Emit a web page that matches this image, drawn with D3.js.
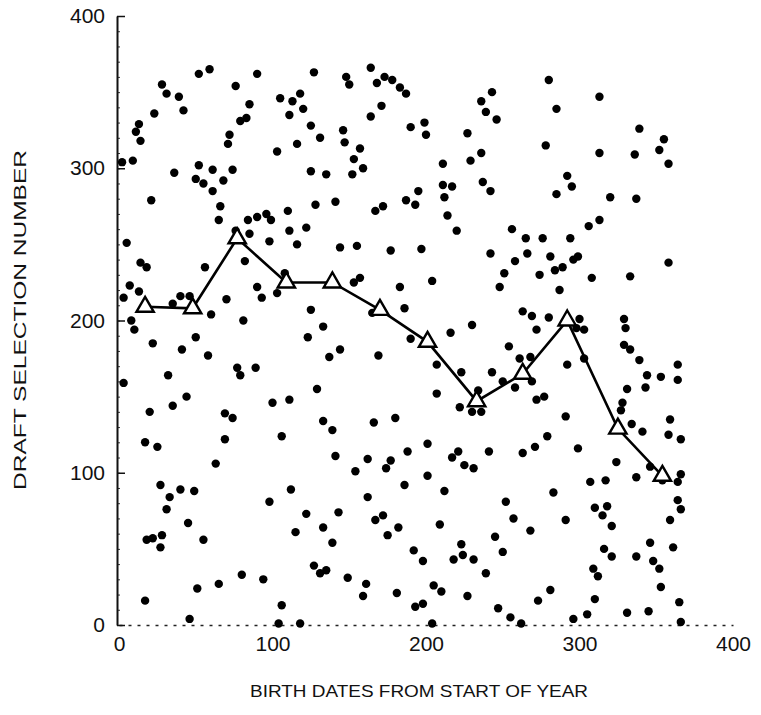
<!doctype html>
<html>
<head>
<meta charset="utf-8">
<script src="https://cdn.jsdelivr.net/npm/d3@7"></script>
<style>
  body { margin: 0; background: #fff; }
  svg text { font-family: 'Liberation Sans', Arial, sans-serif; fill: #111; }
</style>
</head>
<body>
<div id="chart"></div>
<script>
// birth day (day of year) and draft selection number
const birthDay = [
  52,59,90,28,31,39,76,105,113,118,120,111,85,23,42,13,11,14,79,83,72,71,116,103,2,9,52,61,74,36,50,55,68,61,21,66,65,110,84,90,96,99,76,85,111,122,98,116,5,
  127,164,148,150,168,173,178,183,187,171,164,243,236,239,246,125,146,147,131,190,199,200,227,157,153,159,152,125,135,236,229,211,211,217,212,237,242,195,187,193,128,141,167,172,214,220,144,155,177,197,
  280,313,285,339,355,352,358,278,313,336,292,295,285,320,337,256,265,276,294,306,313,
  14,18,56,82,7,13,3,35,40,46,70,90,93,103,108,60,8,10,81,50,22,41,58,77,79,89,32,3,44,35,20,69,74,100,111,17,69,106,
  242,157,153,183,204,125,165,186,133,123,144,137,169,190,216,230,207,223,243,129,207,222,234,230,236,133,139,166,180,201,
  266,281,299,296,258,289,284,251,274,248,287,308,333,358,263,269,280,272,300,303,298,329,330,329,333,339,364,254,261,268,250,269,258,303,292,344,353,364,331,343,272,277,328,327,291,359,334,341,358,366,279,
  25,63,27,33,40,49,31,45,18,22,28,27,55,98,112,122,115,80,94,65,51,17,106,46,118,104,
  141,162,154,174,177,188,201,186,212,221,217,225,231,241,162,143,167,172,133,175,182,139,209,245,223,224,218,231,192,198,127,131,135,149,161,159,181,205,210,227,239,193,198,204,
  263,271,299,324,346,354,364,366,337,307,317,283,252,310,318,315,364,366,257,291,359,321,268,250,316,321,337,346,361,348,352,309,312,353,281,273,310,365,247,255,262,296,305,331,345,366
];
const draftNumber = [
  362,365,362,355,349,347,354,346,344,349,339,335,342,336,338,329,324,318,331,333,322,316,316,311,304,305,302,299,299,297,293,290,292,285,279,275,266,272,266,268,270,266,259,257,259,261,252,250,251,
  363,366,360,355,356,360,358,353,349,341,334,350,344,337,332,328,325,317,320,327,330,322,323,313,306,300,296,298,296,310,305,303,289,288,281,291,285,285,279,276,276,278,272,275,269,259,248,249,246,247,
  358,347,339,326,319,312,303,315,310,309,295,288,283,281,280,260,254,254,254,262,266,
  238,235,235,239,223,219,215,211,216,216,214,222,215,218,231,204,200,194,200,189,185,181,177,169,164,169,164,159,150,144,140,139,136,146,148,120,122,124,
  244,228,225,222,226,207,205,208,196,189,181,176,177,188,192,197,171,166,166,155,152,143,154,140,140,134,128,133,136,119,
  244,242,242,240,239,235,233,231,230,222,220,228,229,238,206,203,202,194,201,194,195,201,195,184,181,174,171,183,175,176,160,160,156,175,171,164,163,161,155,156,148,150,146,141,137,135,132,127,125,122,124,
  117,106,92,84,89,88,76,67,56,57,59,51,56,81,89,73,61,33,30,27,24,16,13,4,1,1,
  111,109,101,103,108,114,98,92,88,114,110,105,103,114,84,74,69,72,64,59,64,54,66,58,53,46,43,43,49,42,39,34,36,31,27,19,21,26,22,19,34,12,14,1,
  113,117,116,107,104,95,94,99,97,94,95,87,81,77,78,72,82,76,70,69,69,65,62,48,50,45,45,54,51,42,37,37,32,25,23,16,17,15,11,5,1,4,7,8,9,2
];

// monthly averages (open triangles joined by a line)
const monthDay = [17, 48, 77, 109, 139, 170, 201, 233, 263, 292, 325, 354];
const monthMean = [209, 208, 254, 225, 225, 207, 186, 147, 165, 200, 129, 98];

const xTicks = [0, 100, 200, 300, 400];
const yTicks = [0, 100, 200, 300, 400];

const width = 761, height = 715;

const svg = d3.select('#chart')
  .append('svg')
  .attr('width', width)
  .attr('height', height);

svg.append('rect').attr('width', width).attr('height', height).attr('fill', '#fff');

const x = d3.scaleLinear().domain([0, 400]).range([119, 733]);
const y = d3.scaleLinear().domain([0, 400]).range([625, 16]);

// bottom axis: faint broken baseline, labels only
const xAxis = svg.append('g')
  .attr('transform', `translate(0, ${y(0)})`)
  .call(d3.axisBottom(x).tickValues(xTicks).tickSize(0).tickPadding(11));
xAxis.select('.domain')
  .attr('stroke', '#222')
  .attr('stroke-width', 1.3)
  .attr('stroke-dasharray', '3,6');
xAxis.selectAll('text').style('font-size', '21px');

// minor ticks on the left axis
svg.append('g')
  .attr('transform', `translate(${x(0) - 2}, 0)`)
  .call(d3.axisLeft(y).tickValues(d3.range(0, 401, 10)).tickSize(-3).tickFormat(''))
  .call(g => g.select('.domain').remove())
  .selectAll('line').attr('stroke', '#333');

const yAxis = svg.append('g')
  .attr('transform', `translate(${x(0) - 2}, 0)`)
  .call(d3.axisLeft(y).tickValues(yTicks).tickSizeInner(-8).tickSizeOuter(0).tickPadding(12));
yAxis.select('.domain').attr('stroke', '#111').attr('stroke-width', 2);
yAxis.selectAll('.tick line').attr('stroke', '#111').attr('stroke-width', 1.5);
yAxis.selectAll('text').style('font-size', '21px');

// scatter of draft numbers
const points = birthDay.map((d, i) => ({ day: d, num: draftNumber[i] }));
svg.append('g')
  .selectAll('circle')
  .data(points)
  .enter()
  .append('circle')
  .attr('cx', d => x(d.day))
  .attr('cy', d => y(d.num))
  .attr('r', 4.2)
  .attr('fill', '#000');

// monthly mean line
const means = monthDay.map((d, i) => ({ day: d, mean: monthMean[i] }));
svg.append('path')
  .datum(means)
  .attr('fill', 'none')
  .attr('stroke', '#000')
  .attr('stroke-width', 2.6)
  .attr('d', d3.line().x(d => x(d.day)).y(d => y(d.mean)));

svg.append('g')
  .selectAll('path')
  .data(means)
  .enter()
  .append('path')
  .attr('transform', d => `translate(${x(d.day)}, ${y(d.mean)})`)
  .attr('d', d3.symbol().type(d3.symbolTriangle).size(130))
  .attr('fill', '#fff')
  .attr('stroke', '#000')
  .attr('stroke-width', 2.4);

// axis titles
svg.append('text')
  .attr('x', 419)
  .attr('y', 697)
  .attr('text-anchor', 'middle')
  .attr('textLength', 338)
  .attr('lengthAdjust', 'spacingAndGlyphs')
  .style('font-size', '17px')
  .text('BIRTH DATES FROM START OF YEAR');

svg.append('text')
  .attr('transform', 'translate(26, 320) rotate(-90)')
  .attr('text-anchor', 'middle')
  .attr('textLength', 340)
  .attr('lengthAdjust', 'spacingAndGlyphs')
  .style('font-size', '17px')
  .text('DRAFT SELECTION NUMBER');
</script>
</body>
</html>
